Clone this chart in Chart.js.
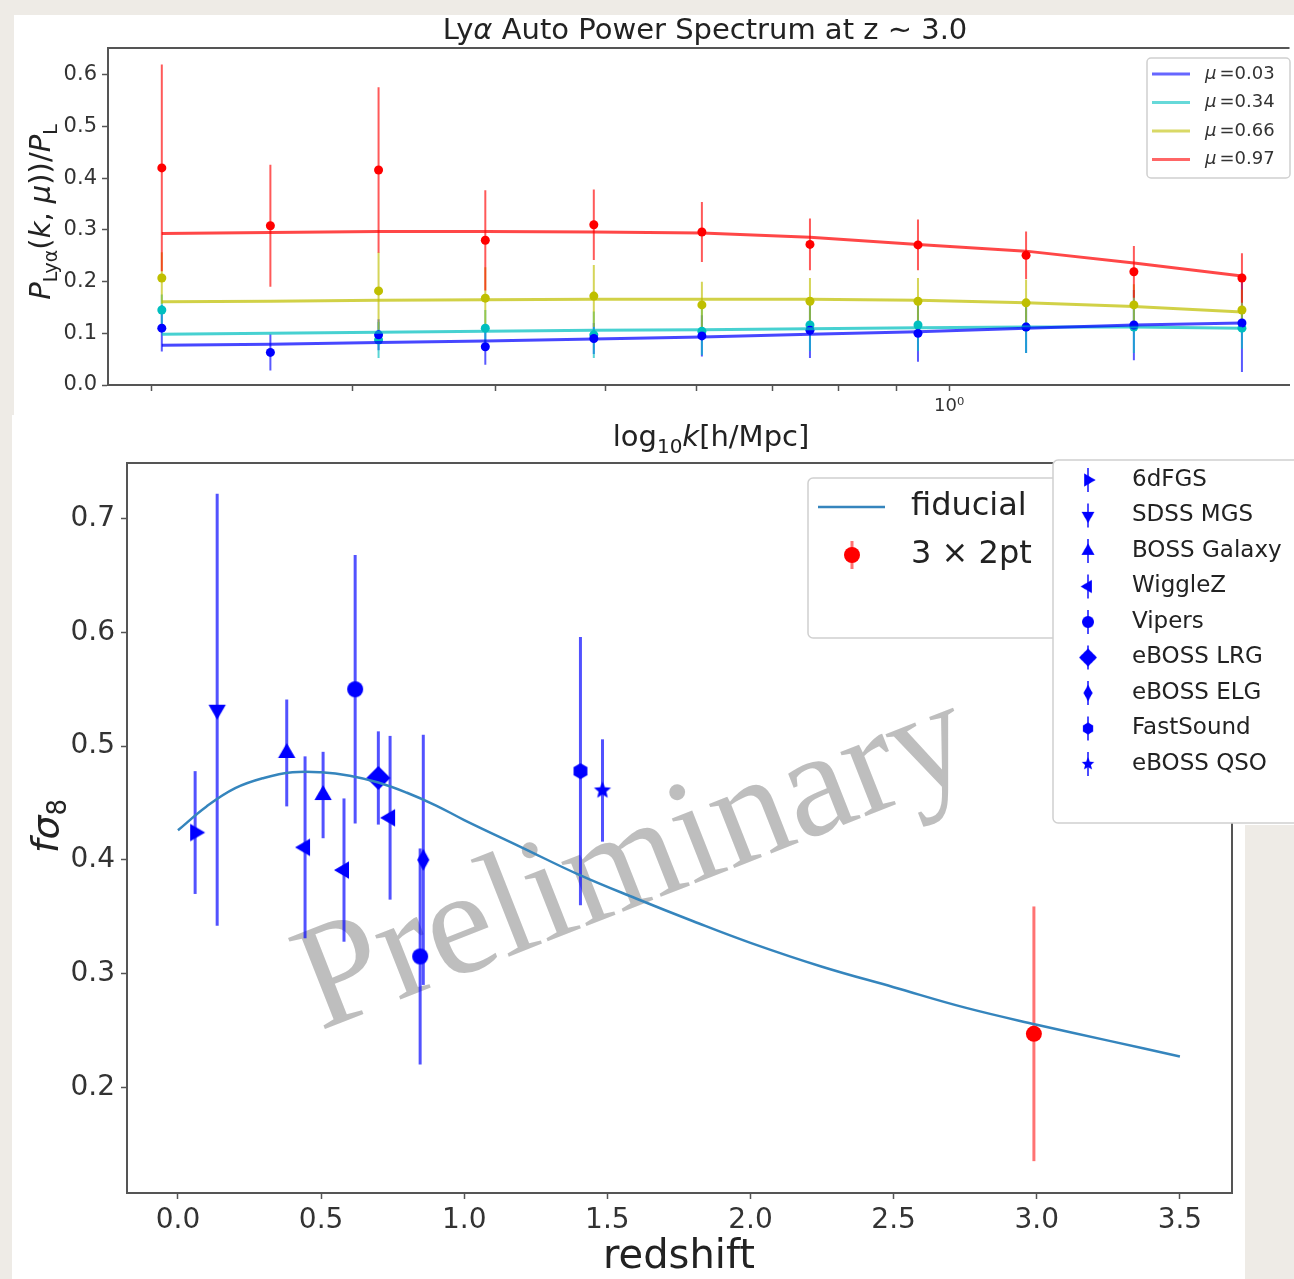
<!DOCTYPE html>
<html>
<head>
<meta charset="utf-8">
<script src="https://cdn.jsdelivr.net/npm/chart.js@4.4.0/dist/chart.umd.min.js"></script>
<style>
  body { margin: 0; width: 1294px; height: 1279px; position: relative; overflow: hidden; background: #eeebe6; }
  .panel { position: absolute; background: #fff; }
  .wrap { position: absolute; }
</style>
</head>
<body>
<div class="panel" style="left:14px;top:15px;width:1280px;height:400px"></div>
<div class="panel" style="left:12px;top:415px;width:1233px;height:864px"></div>
<div class="panel" style="left:1245px;top:415px;width:49px;height:410px"></div>
<div class="wrap" style="left:0;top:0"><canvas id="topChart" width="1294" height="460"></canvas></div>
<div class="wrap" style="left:0;top:415px"><canvas id="bottomChart" width="1294" height="864"></canvas></div>
<script>
// ---- top panel: Lya auto power spectrum ----
const K_VALUES = [0.204, 0.254, 0.316, 0.392, 0.488, 0.607, 0.755, 0.939, 1.168, 1.452, 1.806];
const TOP_X_TICKS = [0.2, 0.3, 0.4, 0.5, 0.6, 0.7, 0.8, 0.9, 1];
const TOP_Y_TICKS = [0, 0.1, 0.2, 0.3, 0.4, 0.5, 0.6];
const MU_LABELS = ["0.03", "0.34", "0.66", "0.97"];

const LINE_MU003 = [0.077, 0.079, 0.082, 0.085, 0.089, 0.093, 0.098, 0.103, 0.110, 0.116, 0.120];
const LINE_MU034 = [0.098, 0.100, 0.102, 0.104, 0.106, 0.107, 0.109, 0.111, 0.112, 0.112, 0.110];
const LINE_MU066 = [0.161, 0.162, 0.164, 0.165, 0.166, 0.166, 0.166, 0.164, 0.159, 0.152, 0.141];
const LINE_MU097 = [0.293, 0.295, 0.297, 0.297, 0.296, 0.294, 0.286, 0.272, 0.259, 0.236, 0.211];

const P_MU003 = [0.110, 0.063, 0.097, 0.074, 0.090, 0.095, 0.106, 0.100, 0.112, 0.116, 0.120];
const ERR_MU003 = [0.045, 0.035, 0.030, 0.035, 0.030, 0.040, 0.054, 0.055, 0.050, 0.068, 0.095];
const P_MU034 = [0.145, null, 0.087, 0.110, 0.097, 0.104, 0.116, 0.116, 0.112, 0.112, 0.110];
const ERR_MU034 = [0.030, null, 0.035, 0.035, 0.045, 0.046, 0.050, 0.050, 0.050, 0.050, 0.040];
const P_MU066 = [0.207, null, 0.182, 0.168, 0.172, 0.155, 0.162, 0.162, 0.159, 0.155, 0.145];
const ERR_MU066 = [0.050, null, 0.075, 0.060, 0.060, 0.045, 0.045, 0.045, 0.045, 0.040, 0.040];
const P_MU097 = [0.420, 0.308, 0.416, 0.280, 0.310, 0.296, 0.272, 0.271, 0.251, 0.219, 0.207];
const ERR_MU097 = [0.200, 0.118, 0.160, 0.097, 0.068, 0.058, 0.050, 0.049, 0.046, 0.050, 0.048];

// ---- bottom panel: f sigma_8 vs redshift ----
const Z_GRID = [0, 0.1, 0.2, 0.3, 0.4, 0.5, 0.6, 0.7, 0.8, 0.9, 1.0, 1.2, 1.4, 1.6, 1.8, 2.0, 2.25, 2.5, 2.75, 3.0, 3.25, 3.5];
const FIDUCIAL = [0.426, 0.447, 0.463, 0.472, 0.477, 0.477, 0.474, 0.468, 0.459, 0.448, 0.435, 0.411, 0.387, 0.366, 0.346, 0.327, 0.306, 0.288, 0.270, 0.255, 0.241, 0.227];
const BOT_X_TICKS = [0, 0.5, 1.0, 1.5, 2.0, 2.5, 3.0, 3.5];
const BOT_Y_TICKS = [0.2, 0.3, 0.4, 0.5, 0.6, 0.7];

const SURVEY_NAMES = ["6dFGS", "SDSS MGS", "BOSS Galaxy", "WiggleZ", "Vipers", "eBOSS LRG", "eBOSS ELG", "FastSound", "eBOSS QSO"];
const SURVEY_Z = [[0.06], [0.137], [0.38, 0.507], [0.444, 0.58, 0.741], [0.619, 0.846], [0.70], [0.857], [1.406], [1.483]];
const SURVEY_FS8 = [[0.424], [0.532], [0.494, 0.457], [0.411, 0.391, 0.437], [0.550, 0.315], [0.472], [0.400], [0.478], [0.461]];
const SURVEY_ERR = [[0.054], [0.190], [0.047, 0.038], [0.080, 0.063, 0.072], [0.118, 0.095], [0.041], [0.110], [0.118], [0.045]];

const Z_3X2PT = [2.99];
const FS8_3X2PT = [0.247];
const ERR_3X2PT = [0.112];

const FONT = '"DejaVu Sans"';
const MU_COLORS = ["#0000ff", "#00bfbf", "#bfbf00", "#ff0000"];
const FID_COLOR = "#3585bd";
const SURVEY_MARKERS = [["tri-right", 10], ["tri-down", 10], ["tri-up", 10], ["tri-left", 10], ["circle", 8], ["diamond", 12], ["thin", 11], ["hexagon", 8], ["star", 9]];

function toPoints(xs, ys) {
  return xs.map((x, i) => ({ x: x, y: ys[i] })).filter(p => p.y !== null);
}

function alpha(hex, a) {
  const n = parseInt(hex.slice(1), 16);
  return `rgba(${n >> 16}, ${(n >> 8) & 255}, ${n & 255}, ${a})`;
}

function makeMarker(shape, r, color) {
  const size = Math.ceil(r * 2 + 4);
  const c = document.createElement("canvas");
  c.width = c.height = size;
  const g = c.getContext("2d");
  g.translate(size / 2, size / 2);
  g.fillStyle = color;
  g.beginPath();
  if (shape.startsWith("tri")) {
    const deg = { "tri-up": 0, "tri-right": 90, "tri-down": 180, "tri-left": 270 }[shape];
    g.rotate(deg * Math.PI / 180);
    g.moveTo(0, -r);
    g.lineTo(r * 0.866, r * 0.5);
    g.lineTo(-r * 0.866, r * 0.5);
  } else if (shape === "circle") {
    g.arc(0, 0, r, 0, Math.PI * 2);
  } else if (shape === "diamond" || shape === "thin") {
    const w = shape === "thin" ? r * 0.55 : r;
    g.moveTo(0, -r); g.lineTo(w, 0); g.lineTo(0, r); g.lineTo(-w, 0);
  } else if (shape === "hexagon") {
    for (let i = 0; i < 6; i++) {
      const a = (i * 60 - 90) * Math.PI / 180;
      g.lineTo(r * Math.cos(a), r * Math.sin(a));
    }
  } else if (shape === "star") {
    for (let i = 0; i < 10; i++) {
      const a = (i * 36 - 90) * Math.PI / 180;
      const rr = i % 2 ? r * 0.45 : r;
      g.lineTo(rr * Math.cos(a), rr * Math.sin(a));
    }
  }
  g.closePath();
  g.fill();
  return c;
}

// draw text made of pieces with their own font / vertical offset, centred on cx
function drawRich(ctx, parts, cx, baseline) {
  let total = 0;
  parts.forEach(p => { ctx.font = p.font; p.w = ctx.measureText(p.t).width; total += p.w; });
  let x = cx - total / 2;
  ctx.textAlign = "left";
  ctx.textBaseline = "alphabetic";
  parts.forEach(p => {
    ctx.font = p.font;
    ctx.fillText(p.t, x, baseline + (p.dy || 0));
    x += p.w;
  });
}

const errorBars = {
  id: "errorBars",
  beforeDatasetsDraw(chart) {
    const { ctx, chartArea: a, scales: { x, y } } = chart;
    ctx.save();
    ctx.beginPath();
    ctx.rect(a.left, a.top, a.right - a.left, a.bottom - a.top);
    ctx.clip();
    chart.data.datasets.forEach(ds => {
      if (!ds.errors) return;
      ctx.strokeStyle = ds.errorColor;
      ctx.lineWidth = ds.errorWidth;
      ds.data.forEach((p, j) => {
        const e = ds.errors[j];
        if (e == null) return;
        const px = x.getPixelForValue(p.x);
        ctx.beginPath();
        ctx.moveTo(px, y.getPixelForValue(p.y - e));
        ctx.lineTo(px, y.getPixelForValue(p.y + e));
        ctx.stroke();
      });
    });
    ctx.restore();
  }
};

function axis(min, max, ticks, fontSize, pad, type) {
  return {
    type: type || "linear",
    min: min,
    max: max,
    afterBuildTicks: s => { s.ticks = ticks.map(v => ({ value: v })); },
    grid: { drawOnChartArea: false, drawTicks: true, tickLength: 6, tickWidth: 1.5, color: "#555" },
    border: { display: true, color: "#555", width: 2 },
    ticks: { font: { family: "DejaVu Sans", size: fontSize }, color: "#333", padding: pad, autoSkip: false, maxRotation: 0 }
  };
}

// ---------- top chart ----------
const muLines = [LINE_MU003, LINE_MU034, LINE_MU066, LINE_MU097];
const muPoints = [P_MU003, P_MU034, P_MU066, P_MU097];
const muErrors = [ERR_MU003, ERR_MU034, ERR_MU066, ERR_MU097];

const topDatasets = [];
muLines.forEach((line, i) => {
  topDatasets.push({
    label: "mu = " + MU_LABELS[i],
    data: toPoints(K_VALUES, line),
    showLine: true,
    borderColor: alpha(MU_COLORS[i], 0.72),
    borderWidth: 3,
    pointRadius: 0
  });
});
muPoints.forEach((pts, i) => {
  topDatasets.push({
    label: "data mu = " + MU_LABELS[i],
    data: toPoints(K_VALUES, pts),
    errors: pts.map((v, j) => v === null ? null : muErrors[i][j]).filter(v => v !== null),
    errorColor: alpha(MU_COLORS[i], 0.65),
    errorWidth: 2,
    backgroundColor: MU_COLORS[i],
    borderWidth: 0,
    pointRadius: 4.5
  });
});

const topDecor = {
  id: "topDecor",
  afterDraw(chart) {
    const { ctx, chartArea: a } = chart;
    ctx.save();
    ctx.strokeStyle = "#555";
    ctx.lineWidth = 2;
    ctx.beginPath();
    ctx.moveTo(a.left, a.top);
    ctx.lineTo(a.right, a.top);
    ctx.stroke();

    ctx.fillStyle = "#222";
    drawRich(ctx, [
      { t: "Ly", font: `29px ${FONT}` },
      { t: "α", font: `italic 29px ${FONT}` },
      { t: " Auto Power Spectrum at z ∼ 3.0", font: `29px ${FONT}` }
    ], 705, 39);

    drawRich(ctx, [
      { t: "log", font: `29px ${FONT}` },
      { t: "10", font: `20px ${FONT}`, dy: 7 },
      { t: "k", font: `italic 29px ${FONT}` },
      { t: "[h/Mpc]", font: `29px ${FONT}` }
    ], 711, 446);

    ctx.save();
    ctx.translate(50, 212);
    ctx.rotate(-Math.PI / 2);
    drawRich(ctx, [
      { t: "P", font: `italic 29px ${FONT}` },
      { t: "Lyα", font: `19px ${FONT}`, dy: 7 },
      { t: "(", font: `29px ${FONT}` },
      { t: "k", font: `italic 29px ${FONT}` },
      { t: ", ", font: `29px ${FONT}` },
      { t: "μ", font: `italic 29px ${FONT}` },
      { t: "))/", font: `29px ${FONT}` },
      { t: "P", font: `italic 29px ${FONT}` },
      { t: "L", font: `19px ${FONT}`, dy: 7 }
    ], 0, 0);
    ctx.restore();

    // legend
    ctx.fillStyle = "rgba(255,255,255,0.85)";
    ctx.strokeStyle = "#d0d0d0";
    ctx.lineWidth = 1.5;
    ctx.beginPath();
    ctx.roundRect(1147, 58, 143, 120, 4);
    ctx.fill();
    ctx.stroke();
    MU_LABELS.forEach((lab, i) => {
      const yy = 74 + i * 28.5;
      ctx.strokeStyle = alpha(MU_COLORS[i], 0.6);
      ctx.lineWidth = 3;
      ctx.beginPath();
      ctx.moveTo(1152, yy);
      ctx.lineTo(1190, yy);
      ctx.stroke();
      ctx.fillStyle = "#333";
      ctx.font = `italic 18px ${FONT}`;
      ctx.textAlign = "left";
      ctx.textBaseline = "middle";
      ctx.fillText("μ", 1205, yy);
      const w = ctx.measureText("μ").width;
      ctx.font = `18px ${FONT}`;
      ctx.fillText("=" + lab, 1208 + w, yy);
    });
    ctx.restore();
  }
};

const topX = axis(0.183, 1.988, TOP_X_TICKS, 18, 5, "logarithmic");
topX.ticks.callback = v => (v === 1 ? "10⁰" : "");
topX.afterFit = s => { s.height = 75; };
const topY = axis(0, 0.652, TOP_Y_TICKS, 21, 5);
topY.ticks.callback = v => v.toFixed(1);
topY.afterFit = s => { s.width = 108; };

new Chart(document.getElementById("topChart"), {
  type: "scatter",
  data: { datasets: topDatasets },
  options: {
    responsive: false,
    animation: false,
    events: [],
    layout: { padding: { top: 48, right: 0, bottom: 0, left: 0 } },
    scales: { x: topX, y: topY },
    plugins: { legend: { display: false }, tooltip: { enabled: false }, title: { display: false } }
  },
  plugins: [errorBars, topDecor]
});

// ---------- bottom chart ----------
const markerImages = SURVEY_MARKERS.map(([shape, r]) => makeMarker(shape, r, "#0000ff"));

const bottomDatasets = [{
  label: "fiducial",
  data: toPoints(Z_GRID, FIDUCIAL),
  showLine: true,
  borderColor: FID_COLOR,
  borderWidth: 2.5,
  pointRadius: 0,
  tension: 0.4
}];
SURVEY_NAMES.forEach((name, i) => {
  bottomDatasets.push({
    label: name,
    data: toPoints(SURVEY_Z[i], SURVEY_FS8[i]),
    errors: SURVEY_ERR[i],
    errorColor: "rgba(0,0,255,0.68)",
    errorWidth: 3,
    pointStyle: markerImages[i],
    pointRadius: 8
  });
});
bottomDatasets.push({
  label: "3 × 2pt",
  data: toPoints(Z_3X2PT, FS8_3X2PT),
  errors: ERR_3X2PT,
  errorColor: "rgba(255,0,0,0.55)",
  errorWidth: 3,
  backgroundColor: "#ff0000",
  borderWidth: 0,
  pointRadius: 8
});

const watermark = {
  id: "watermark",
  beforeDatasetsDraw(chart) {
    const ctx = chart.ctx;
    ctx.save();
    ctx.translate(320, 616);
    ctx.rotate(-21.5 * Math.PI / 180);
    ctx.font = '150px "Liberation Serif"';
    ctx.fillStyle = "rgba(150,150,150,0.62)";
    ctx.textAlign = "left";
    ctx.textBaseline = "alphabetic";
    ctx.fillText("Preliminary", 0, 0);
    ctx.restore();
  }
};

const bottomDecor = {
  id: "bottomDecor",
  afterDraw(chart) {
    const { ctx, chartArea: a } = chart;
    ctx.save();
    ctx.strokeStyle = "#555";
    ctx.lineWidth = 2;
    ctx.beginPath();
    ctx.moveTo(a.left, a.top);
    ctx.lineTo(a.right, a.top);
    ctx.lineTo(a.right, a.bottom);
    ctx.stroke();

    ctx.fillStyle = "#222";
    drawRich(ctx, [{ t: "redshift", font: `40px ${FONT}` }], 679, 853);

    ctx.save();
    ctx.translate(58, 411);
    ctx.rotate(-Math.PI / 2);
    drawRich(ctx, [
      { t: "f", font: `italic 38px ${FONT}` },
      { t: "σ", font: `italic 38px ${FONT}` },
      { t: "8", font: `26px ${FONT}`, dy: 8 }
    ], 0, 0);
    ctx.restore();

    // legend 1: fiducial / 3x2pt
    ctx.fillStyle = "rgba(255,255,255,0.85)";
    ctx.strokeStyle = "#d0d0d0";
    ctx.lineWidth = 1.5;
    ctx.beginPath();
    ctx.roundRect(808, 63, 280, 160, 5);
    ctx.fill();
    ctx.stroke();
    ctx.strokeStyle = FID_COLOR;
    ctx.lineWidth = 2.5;
    ctx.beginPath();
    ctx.moveTo(818, 92);
    ctx.lineTo(885, 92);
    ctx.stroke();
    ctx.strokeStyle = "rgba(255,0,0,0.55)";
    ctx.lineWidth = 3;
    ctx.beginPath();
    ctx.moveTo(852, 126);
    ctx.lineTo(852, 154);
    ctx.stroke();
    ctx.fillStyle = "#ff0000";
    ctx.beginPath();
    ctx.arc(852, 140, 8, 0, Math.PI * 2);
    ctx.fill();
    ctx.fillStyle = "#222";
    ctx.font = `32px ${FONT}`;
    ctx.textAlign = "left";
    ctx.textBaseline = "middle";
    ctx.fillText("fiducial", 911, 92);
    ctx.fillText("3 × 2pt", 911, 140);

    // legend 2: surveys
    ctx.fillStyle = "#fff";
    ctx.strokeStyle = "#d0d0d0";
    ctx.lineWidth = 1.5;
    ctx.beginPath();
    ctx.roundRect(1053, 45, 260, 363, 5);
    ctx.fill();
    ctx.stroke();
    SURVEY_NAMES.forEach((name, i) => {
      const yy = 65 + i * 35.5;
      ctx.strokeStyle = "rgba(0,0,255,0.7)";
      ctx.lineWidth = 2;
      ctx.beginPath();
      ctx.moveTo(1088, yy - 12);
      ctx.lineTo(1088, yy + 12);
      ctx.stroke();
      const img = markerImages[i];
      const s = 0.75;
      ctx.drawImage(img, 1088 - img.width * s / 2, yy - img.height * s / 2, img.width * s, img.height * s);
      ctx.fillStyle = "#222";
      ctx.font = `23px ${FONT}`;
      ctx.textAlign = "left";
      ctx.textBaseline = "middle";
      ctx.fillText(name, 1132, yy);
    });
    ctx.restore();
  }
};

const botX = axis(-0.178, 3.682, BOT_X_TICKS, 28, 5);
botX.ticks.callback = v => v.toFixed(1);
botX.afterFit = s => { s.height = 86; };
const botY = axis(0.107, 0.749, BOT_Y_TICKS, 28, 6);
botY.ticks.callback = v => v.toFixed(1);
botY.afterFit = s => { s.width = 127; };

new Chart(document.getElementById("bottomChart"), {
  type: "scatter",
  data: { datasets: bottomDatasets },
  options: {
    responsive: false,
    animation: false,
    events: [],
    layout: { padding: { top: 48, right: 62, bottom: 0, left: 0 } },
    scales: { x: botX, y: botY },
    plugins: { legend: { display: false }, tooltip: { enabled: false }, title: { display: false } }
  },
  plugins: [watermark, errorBars, bottomDecor]
});
</script>
</body>
</html>
